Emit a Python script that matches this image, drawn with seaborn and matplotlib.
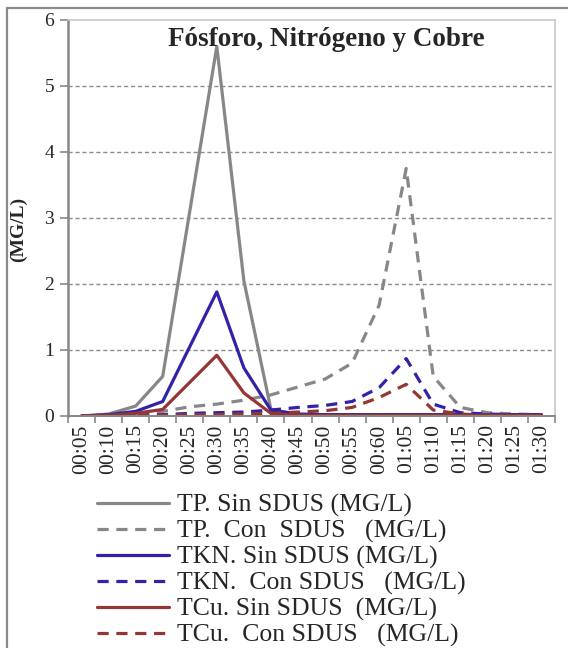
import matplotlib
matplotlib.use('Agg')
import matplotlib.pyplot as plt
from matplotlib.patches import Rectangle
from matplotlib.ticker import FixedLocator
import seaborn as sns


ETIQUETAS = ['00:05', '00:10', '00:15', '00:20', '00:25', '00:30', '00:35', '00:40', '00:45',
             '00:50', '00:55', '00:60', '01:05', '01:10', '01:15', '01:20', '01:25', '01:30']

TP_SIN  = [0.0, 0.03, 0.15, 0.60, 3.10, 5.60, 2.05, 0.10, 0.02, 0.02, 0.02, 0.02, 0.02, 0.02, 0.02, 0.02, 0.02, 0.02]
TP_CON  = [0.0, 0.01, 0.03, 0.07, 0.14, 0.18, 0.24, 0.32, 0.44, 0.56, 0.80, 1.68, 3.75, 0.60, 0.13, 0.05, 0.03, 0.02]
TKN_SIN = [0.0, 0.02, 0.07, 0.22, 1.05, 1.88, 0.73, 0.09, 0.03, 0.02, 0.02, 0.02, 0.02, 0.02, 0.02, 0.02, 0.02, 0.02]
TKN_CON = [0.0, 0.005, 0.01, 0.02, 0.04, 0.05, 0.06, 0.09, 0.13, 0.16, 0.22, 0.43, 0.87, 0.18, 0.05, 0.03, 0.02, 0.02]
TCU_SIN = [0.0, 0.01, 0.04, 0.10, 0.51, 0.92, 0.35, 0.04, 0.01, 0.01, 0.01, 0.01, 0.01, 0.01, 0.01, 0.01, 0.01, 0.01]
TCU_CON = [0.0, 0.0, 0.01, 0.01, 0.02, 0.02, 0.03, 0.04, 0.06, 0.08, 0.13, 0.28, 0.48, 0.09, 0.03, 0.01, 0.01, 0.01]

GRIS, AZUL, ROJO = '#878787', '#3222AA', '#943634'
DASH = (0, (3.5, 2.4))

SERIES = [
    ('TP. Sin SDUS (MG/L)',       TP_SIN,  GRIS, '-'),
    ('TP.  Con  SDUS   (MG/L)',   TP_CON,  GRIS, DASH),
    ('TKN. Sin SDUS (MG/L)',      TKN_SIN, AZUL, '-'),
    ('TKN.  Con SDUS   (MG/L)',   TKN_CON, AZUL, DASH),
    ('TCu. Sin SDUS  (MG/L)',     TCU_SIN, ROJO, '-'),
    ('TCu.  Con SDUS   (MG/L)',   TCU_CON, ROJO, DASH),
]


def main():
    sns.set_theme(style='white')
    plt.rcParams['font.family'] = ['Liberation Serif', 'DejaVu Serif']

    fig = plt.figure(figsize=(5.68, 6.48), dpi=100)
    ax = fig.add_axes([68 / 568, 1 - 416 / 648, 487 / 568, 396 / 648])

    # marco exterior del grafico (recortado a derecha y abajo)
    fig.patches.append(Rectangle((7 / 568, -0.2), 2.0, 0.2 + 1 - 8 / 648,
                                 transform=fig.transFigure, fill=False,
                                 edgecolor='#8a8a8a', linewidth=1.6, zorder=0))

    for nombre, valores, color, estilo in SERIES:
        sns.lineplot(x=ETIQUETAS, y=valores, sort=False, color=color, linestyle=estilo,
                     linewidth=2.3, label=nombre, ax=ax)

    ax.set_ylim(0, 6)
    ax.set_xlim(-0.5, len(ETIQUETAS) - 0.5)
    ax.set_yticks(range(0, 7))
    ax.set_yticklabels([str(v) for v in range(0, 7)], fontsize=14)
    ax.set_xticks(range(len(ETIQUETAS)))
    ax.set_xticklabels(ETIQUETAS, rotation=90, fontsize=15.5)
    ax.xaxis.set_minor_locator(FixedLocator([i - 0.5 for i in range(len(ETIQUETAS) + 1)]))
    ax.tick_params(axis='x', which='major', length=0, pad=6)
    ax.tick_params(axis='x', which='minor', length=5, width=1.2, color='#888888', bottom=True)
    ax.tick_params(axis='y', length=6, width=1.2, color='#888888', left=True, pad=4)

    for y in range(1, 6):
        ax.axhline(y, color='#8c8c8c', linestyle=(0, (3, 2)), linewidth=1.0, zorder=0)

    ax.spines['left'].set_color('#888888')
    ax.spines['left'].set_linewidth(1.8)
    ax.spines['bottom'].set_color('#888888')
    ax.spines['bottom'].set_linewidth(1.4)
    for lado in ('top', 'right'):
        ax.spines[lado].set_color('#c8c8c8')
        ax.spines[lado].set_linewidth(1.2)

    ax.set_xlabel('')
    ax.set_ylabel('(MG/L)', fontsize=14, fontweight='bold')
    ax.yaxis.set_label_coords(-0.083, 0.47)
    ax.text(0.53, 0.95, 'Fósforo, Nitrógeno y Cobre', transform=ax.transAxes,
            ha='center', va='center', fontsize=19.5, fontweight='bold')

    handles, labels = ax.get_legend_handles_labels()
    ax.get_legend().remove()
    fig.legend(handles, labels, loc='upper left', bbox_to_anchor=(97 / 568, 1 - 494 / 648),
               frameon=False, fontsize=18.5, handlelength=2.8, handletextpad=0.3,
               labelspacing=0.1, borderpad=0, borderaxespad=0)

    fig.savefig('out.png', dpi=100)
    plt.close(fig)


if __name__ == '__main__':
    main()
